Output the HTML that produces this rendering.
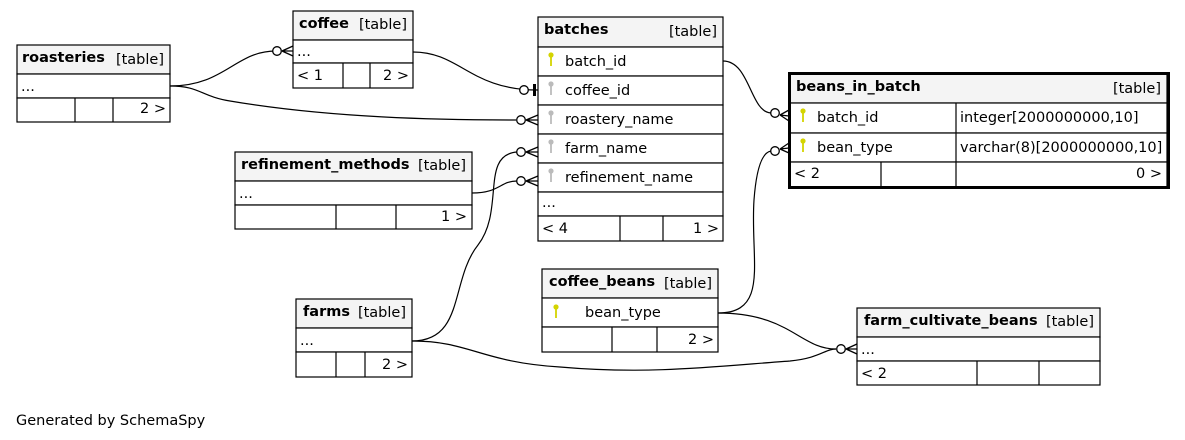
<!DOCTYPE html>
<html><head><meta charset="utf-8"><style>
html,body{margin:0;padding:0;background:#fff;}
svg{display:block;font-family:"DejaVu Sans","Liberation Sans",sans-serif;font-size:14.5px;}
.b{font-weight:bold;}
.t{text-anchor:end;}
</style></head><body>
<svg width="1185" height="440" viewBox="0 0 1185 440" xmlns="http://www.w3.org/2000/svg">
<defs>
<g id="ky"><circle cx="0" cy="-3" r="2.6" fill="#d4d400"/><rect x="-0.9" y="-1" width="1.8" height="9" fill="#d4d400"/></g>
<g id="kg"><circle cx="0" cy="-3" r="2.6" fill="#bbb"/><rect x="-0.9" y="-1" width="1.8" height="9" fill="#bbb"/></g>
</defs>
<rect width="1185" height="440" fill="#fff"/>

<g fill="none" stroke="#000" stroke-width="1.2">
<path d="M170,86 C225,86 235,51 276,51"/>
<path d="M170,86 C200,86 200,96 230,101 C330,118 440,120 516,120"/>
<path d="M413,52 C460,52 470,90 538,90"/>
<path d="M472,193 C500,193 500,181 517,181"/>
<path d="M412,341 C465,341 450,280 478,245 C505,210 480,155 517,152"/>
<path d="M412,341 C470,341 480,362 560,367 C650,375 720,366 790,361 C820,358 825,349 836,349"/>
<path d="M718,313 C770,313 750,260 754,200 C757,160 765,152 771,151"/>
<path d="M718,313 C790,313 800,349 836,349"/>
<path d="M723,61 C750,61 750,112 771,113"/>
</g>

<g fill="#fff" stroke="#000" stroke-width="1.3">
<circle cx="277" cy="51" r="4.3"/>
<path d="M282,51 L293,46 M282,51 L293,51 M282,51 L293,56" fill="none"/>
<circle cx="521" cy="120" r="4.3"/>
<path d="M526,120 L538,115 M526,120 L538,120 M526,120 L538,125" fill="none"/>
<circle cx="521" cy="152" r="4.3"/>
<path d="M526,152 L538,147 M526,152 L538,152 M526,152 L538,157" fill="none"/>
<circle cx="521" cy="181" r="4.3"/>
<path d="M526,181 L538,176 M526,181 L538,181 M526,181 L538,186" fill="none"/>
<circle cx="775" cy="113" r="4.3"/>
<path d="M780,115 L789,110 M780,115 L789,116 M780,115 L789,121" fill="none"/>
<circle cx="775" cy="151" r="4.3"/>
<path d="M780,149 L789,143 M780,149 L789,148 M780,149 L789,153" fill="none"/>
<circle cx="841" cy="349" r="4.3"/>
<path d="M846,349 L857,344 M846,349 L857,349 M846,349 L857,354" fill="none"/>
<circle cx="524" cy="90" r="4.3"/>
</g>
<rect x="533" y="84" width="3" height="12" fill="#000"/>

<g stroke="#000" stroke-width="1.2">
<rect x="17" y="45" width="153" height="29" fill="#f4f4f4"/>
<rect x="17" y="74" width="153" height="24" fill="#fff"/>
<rect x="17" y="98" width="153" height="24" fill="#fff"/>
<line x1="75" y1="98" x2="75" y2="122"/><line x1="113" y1="98" x2="113" y2="122"/>
<rect x="293" y="11" width="120" height="29" fill="#f4f4f4"/>
<rect x="293" y="40" width="120" height="23" fill="#fff"/>
<rect x="293" y="63" width="120" height="25" fill="#fff"/>
<line x1="343" y1="63" x2="343" y2="88"/><line x1="370" y1="63" x2="370" y2="88"/>
<rect x="538" y="17" width="185" height="30" fill="#f4f4f4"/>
<rect x="538" y="47" width="185" height="29" fill="#fff"/>
<rect x="538" y="76" width="185" height="29" fill="#fff"/>
<rect x="538" y="105" width="185" height="29" fill="#fff"/>
<rect x="538" y="134" width="185" height="29" fill="#fff"/>
<rect x="538" y="163" width="185" height="29" fill="#fff"/>
<rect x="538" y="192" width="185" height="24" fill="#fff"/>
<rect x="538" y="216" width="185" height="25" fill="#fff"/>
<line x1="620" y1="216" x2="620" y2="241"/><line x1="663" y1="216" x2="663" y2="241"/>
<rect x="235" y="152" width="237" height="29" fill="#f4f4f4"/>
<rect x="235" y="181" width="237" height="24" fill="#fff"/>
<rect x="235" y="205" width="237" height="24" fill="#fff"/>
<line x1="336" y1="205" x2="336" y2="229"/><line x1="396" y1="205" x2="396" y2="229"/>
<rect x="296" y="299" width="116" height="29" fill="#f4f4f4"/>
<rect x="296" y="328" width="116" height="24" fill="#fff"/>
<rect x="296" y="352" width="116" height="25" fill="#fff"/>
<line x1="336" y1="352" x2="336" y2="377"/><line x1="365" y1="352" x2="365" y2="377"/>
<rect x="542" y="269" width="176" height="29" fill="#f4f4f4"/>
<rect x="542" y="298" width="176" height="29" fill="#fff"/>
<rect x="542" y="327" width="176" height="25" fill="#fff"/>
<line x1="612" y1="327" x2="612" y2="352"/><line x1="657" y1="327" x2="657" y2="352"/>
<rect x="857" y="308" width="243" height="29" fill="#f4f4f4"/>
<rect x="857" y="337" width="243" height="24" fill="#fff"/>
<rect x="857" y="361" width="243" height="24" fill="#fff"/>
<line x1="977" y1="361" x2="977" y2="385"/><line x1="1039" y1="361" x2="1039" y2="385"/>
<rect x="790" y="74" width="377" height="29" fill="#f4f4f4"/>
<rect x="790" y="103" width="377" height="30" fill="#fff"/>
<rect x="790" y="133" width="377" height="29" fill="#fff"/>
<rect x="790" y="162" width="377" height="25" fill="#fff"/>
<line x1="956" y1="103" x2="956" y2="187"/><line x1="881" y1="162" x2="881" y2="187"/>
</g>
<rect x="789.5" y="73.5" width="379" height="114" fill="none" stroke="#000" stroke-width="3"/>

<text x="22" y="62" class="b">roasteries</text><text x="164" y="64" class="t">[table]</text>
<text x="21" y="91">...</text>
<text x="166" y="113" class="t">2 &gt;</text>

<text x="299" y="28" class="b">coffee</text><text x="407" y="29" class="t">[table]</text>
<text x="297" y="56">...</text>
<text x="297" y="80">&lt; 1</text>
<text x="409" y="80" class="t">2 &gt;</text>

<text x="544" y="34" class="b">batches</text><text x="717" y="36" class="t">[table]</text>
<use href="#ky" x="551" y="58"/><text x="565" y="66">batch_id</text>
<use href="#kg" x="551" y="87"/><text x="565" y="95">coffee_id</text>
<use href="#kg" x="551" y="116"/><text x="565" y="124">roastery_name</text>
<use href="#kg" x="551" y="145"/><text x="565" y="153">farm_name</text>
<use href="#kg" x="551" y="174"/><text x="565" y="182">refinement_name</text>
<text x="542" y="207">...</text>
<text x="542" y="233">&lt; 4</text>
<text x="719" y="233" class="t">1 &gt;</text>

<text x="241" y="169" class="b">refinement_methods</text><text x="466" y="170" class="t">[table]</text>
<text x="239" y="198">...</text>
<text x="467" y="221" class="t">1 &gt;</text>

<text x="303" y="316" class="b">farms</text><text x="406" y="317" class="t">[table]</text>
<text x="300" y="345">...</text>
<text x="408" y="369" class="t">2 &gt;</text>

<text x="549" y="286" class="b">coffee_beans</text><text x="712" y="288" class="t">[table]</text>
<use href="#ky" x="556" y="310"/><text x="585" y="317">bean_type</text>
<text x="714" y="344" class="t">2 &gt;</text>

<text x="864" y="325" class="b">farm_cultivate_beans</text><text x="1094" y="326" class="t">[table]</text>
<text x="861" y="354">...</text>
<text x="861" y="378">&lt; 2</text>

<text x="796" y="91" class="b">beans_in_batch</text><text x="1161" y="93" class="t">[table]</text>
<use href="#ky" x="803" y="114"/><text x="817" y="122">batch_id</text>
<text x="960" y="122">integer[2000000000,10]</text>
<use href="#ky" x="803" y="144"/><text x="817" y="152">bean_type</text>
<text x="960" y="152">varchar(8)[2000000000,10]</text>
<text x="794" y="178">&lt; 2</text>
<text x="1162" y="178" class="t">0 &gt;</text>

<text x="16" y="425">Generated by SchemaSpy</text>
</svg>
</body></html>
